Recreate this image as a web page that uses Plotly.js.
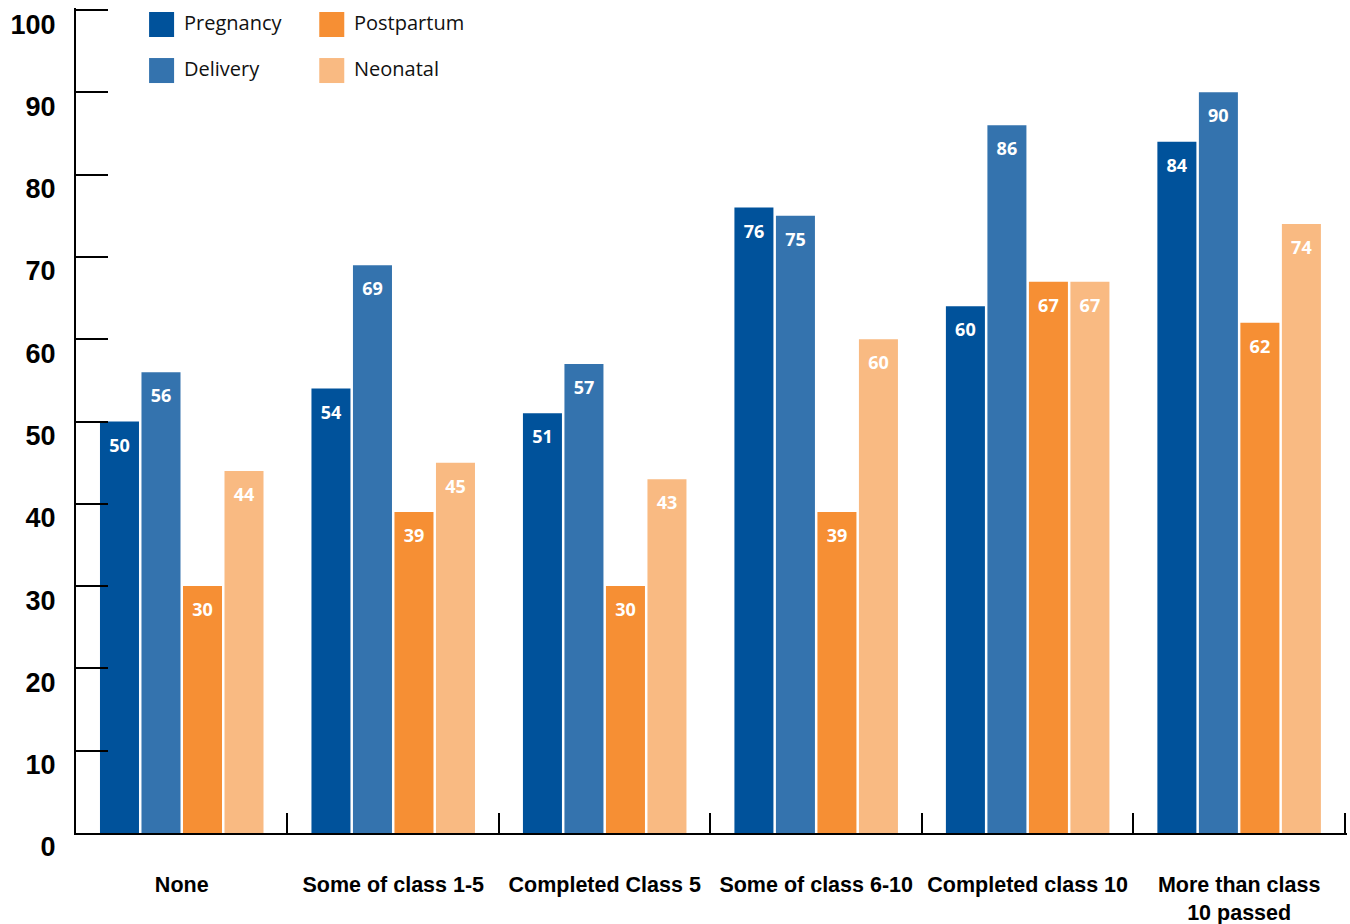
<!DOCTYPE html>
<html>
<head>
<meta charset="utf-8">
<script src="https://cdn.plot.ly/plotly-3.0.1.min.js"></script>
<style>html,body{margin:0;padding:0;background:#fff;}#chart{width:1350px;height:924px;}</style>
</head>
<body>
<div id="chart"></div>
<script>
// ---- data ----
const categories = ["None", "Some of class 1-5", "Completed Class 5", "Some of class 6-10", "Completed class 10", "More than class<br>10 passed"];
const seriesNames = ["Pregnancy", "Delivery", "Postpartum", "Neonatal"];
const pregnancy = [50, 54, 51, 76, 64, 84];
const delivery = [56, 69, 57, 75, 86, 90];
const postpartum = [30, 39, 30, 39, 67, 62];
const neonatal = [44, 45, 43, 60, 67, 74];
// printed labels (one printed label differs from its bar height in the original)
const pregnancyLabels = [50, 54, 51, 76, 60, 84];
const deliveryLabels = [56, 69, 57, 75, 86, 90];
const postpartumLabels = [30, 39, 30, 39, 67, 62];
const neonatalLabels = [44, 45, 43, 60, 67, 74];
const colors = ["#00529b", "#3473ae", "#f68f34", "#f9ba82"];
const yTicks = [0, 10, 20, 30, 40, 50, 60, 70, 80, 90, 100];

const seriesValues = [pregnancy, delivery, postpartum, neonatal];
const seriesLabels = [pregnancyLabels, deliveryLabels, postpartumLabels, neonatalLabels];

const traces = [];
seriesNames.forEach((name, i) => {
  traces.push({
    type: "bar", name: name, x: categories, y: seriesValues[i],
    offsetgroup: String(i), marker: {color: colors[i]},
    hoverinfo: "skip", showlegend: false
  });
});
seriesNames.forEach((name, i) => {
  traces.push({
    type: "scatter", mode: "markers+text", name: name + " labels",
    x: categories, y: seriesValues[i], text: seriesLabels[i].map(String),
    offsetgroup: String(i),
    textposition: "bottom center",
    marker: {size: 25, opacity: 0, color: colors[i]},
    textfont: {family: "Open Sans", size: 18, color: "#ffffff", weight: 700},
    cliponaxis: false, hoverinfo: "skip", showlegend: false
  });
});

// legend built from series names / colours (2 columns, column-major)
const shapes = [], annotations = [];
const legCol = [0.0575, 0.1914];
const legRow = [0.9800, 0.9242];
seriesNames.forEach((name, i) => {
  const c = Math.floor(i / 2), r = i % 2;
  shapes.push({
    type: "rect", xref: "paper", yref: "paper",
    xsizemode: "pixel", ysizemode: "pixel",
    xanchor: legCol[c], yanchor: legRow[r],
    x0: 0, x1: 25, y0: -12.5, y1: 12.5,
    fillcolor: colors[i], line: {width: 0}
  });
  annotations.push({
    xref: "paper", yref: "paper", x: legCol[c], y: legRow[r],
    xshift: 33, yshift: 2, xanchor: "left", yanchor: "middle", showarrow: false,
    text: name, font: {family: "Open Sans", size: 20, color: "#111"}
  });
});

const layout = {
  width: 1350, height: 924,
  margin: {l: 76, r: 3, t: 8, b: 91},
  paper_bgcolor: "#fff", plot_bgcolor: "#fff",
  barmode: "group", bargap: 0.215, bargroupgap: 0.06,
  scattermode: "group", scattergap: 0.215,
  showlegend: false,
  xaxis: {
    type: "category", range: [-0.5, 5.51], tickson: "boundaries", ticks: "inside", ticklen: 20,
    tickwidth: 2, tickcolor: "#000", showline: true, linecolor: "#000", linewidth: 2,
    showgrid: false, zeroline: false, ticklabelstandoff: 31,
    tickfont: {family: "Liberation Sans", size: 21.5, color: "#000", weight: 700},
    fixedrange: true
  },
  yaxis: {
    range: [0, 100.25], tickvals: yTicks, ticktext: yTicks.map(String),
    ticks: "inside", ticklen: 32, tickwidth: 2, tickcolor: "#000",
    showline: true, linecolor: "#000", linewidth: 2, showgrid: false, zeroline: false,
    ticklabelstandoff: 13, ticklabelshift: 14,
    tickfont: {family: "Liberation Sans", size: 27, color: "#000", weight: 700},
    fixedrange: true
  },
  shapes: shapes, annotations: annotations
};

Plotly.newPlot("chart", traces, layout, {displayModeBar: false, staticPlot: true});
</script>
</body>
</html>
